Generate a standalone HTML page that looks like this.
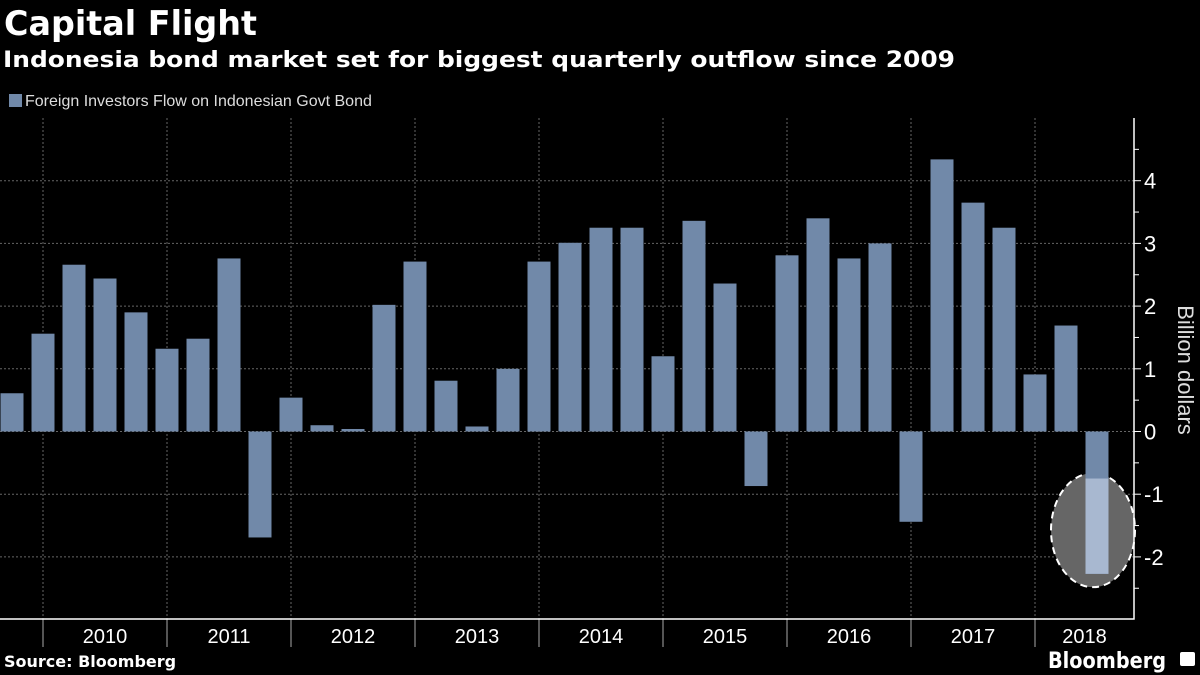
<!DOCTYPE html>
<html><head><meta charset="utf-8"><style>
html,body{margin:0;padding:0;background:#000;width:1200px;height:675px;overflow:hidden}
svg{display:block}
</style></head><body>
<svg id="c" width="1200" height="675" xmlns="http://www.w3.org/2000/svg" font-family="'Liberation Sans', 'DejaVu Sans', sans-serif">
<text x="4" y="35" fill="#fff" font-size="34" font-weight="bold" font-family="'DejaVu Sans', sans-serif" textLength="253" lengthAdjust="spacingAndGlyphs">Capital Flight</text>
<text x="3" y="67" fill="#fff" font-size="22" font-weight="bold" font-family="'DejaVu Sans', sans-serif" textLength="952" lengthAdjust="spacingAndGlyphs">Indonesia bond market set for biggest quarterly outflow since 2009</text>
<rect x="9" y="94" width="13" height="13" fill="#7189a9"/>
<text x="25" y="106" fill="#ddd" font-size="16">Foreign Investors Flow on Indonesian Govt Bond</text>
<g id="grid"></g>
<g id="bars"></g>
<g id="axes"></g>
<text x="4" y="667" fill="#fff" font-size="16" font-weight="bold" font-family="'DejaVu Sans', sans-serif">Source: Bloomberg</text>
<text x="1048" y="668" fill="#fff" font-size="22" font-weight="bold" font-family="'DejaVu Sans', sans-serif" textLength="118" lengthAdjust="spacingAndGlyphs">Bloomberg</text>
<rect x="1180" y="652" width="15" height="14" rx="2" fill="#fff"/>
<text transform="translate(1178,370) rotate(90)" fill="#ddd" font-size="22" text-anchor="middle">Billion dollars</text>
</svg>
<script>
const values=[0.61,1.56,2.66,2.44,1.90,1.32,1.48,2.76,-1.69,0.54,0.10,0.04,2.02,2.71,0.81,0.08,1.00,2.71,3.01,3.25,3.25,1.20,3.36,2.36,-0.87,2.81,3.40,2.76,3.00,-1.44,4.34,3.65,3.25,0.91,1.69,-2.27];
const years=["2010","2011","2012","2013","2014","2015","2016","2017","2018"];
const yTicks=[-2,-1,0,1,2,3,4];
const NS="http://www.w3.org/2000/svg";
const y0=431.5, unit=62.7, axisX=1134, axisY=619, topY=118;
const yS=v=>y0-v*unit;
const xS=i=>12+31*i;
function mk(t,a,p){const e=document.createElementNS(NS,t);for(const k in a)e.setAttribute(k,a[k]);p.appendChild(e);return e;}
const grid=document.getElementById('grid'),bars=document.getElementById('bars'),axes=document.getElementById('axes');
yTicks.forEach(v=>{
 const l=mk('line',{x1:0,x2:axisX,y1:yS(v),y2:yS(v),stroke:'#666','stroke-dasharray':'2,2','stroke-width':1},grid);
 
 
 const t=mk('line',{x1:axisX,x2:axisX+7,y1:yS(v),y2:yS(v),stroke:'#fff'},axes);
 
 
 const tx=mk('text',{x:axisX+10,y:yS(v)+8,fill:'#fff','font-size':22},axes);
 tx.textContent=v<0?'-'+Math.abs(v):String(v);
 
 
});
for(let v=-2.5;v<=4.5;v+=1){
 const m=mk('line',{x1:axisX,x2:axisX+5,y1:yS(v),y2:yS(v),stroke:'#fff'},axes);
 
 
}
years.forEach((yr,k)=>{
 const sx=43+124*k;
 const g=mk('line',{x1:sx,x2:sx,y1:topY,y2:axisY,stroke:'#666','stroke-dasharray':'2,2'},grid);
 
 
 const t=mk('line',{x1:sx,x2:sx,y1:axisY,y2:647,stroke:'#aaa'},axes);
 
 
 const ex=Math.min(sx+124,axisX);
 const tx=mk('text',{x:(sx+ex)/2,y:643,fill:'#fff','font-size':20,'text-anchor':'middle'},axes);
 tx.textContent=yr;
 
 
});
const last=values.length-1;
const cx=xS(last), cy=(yS(-0.75)+yS(-2.27))/2+4;
const el=mk('ellipse',{cx:cx-4,cy:cy,rx:42,ry:57,fill:'#666',stroke:'#fff','stroke-width':2,'stroke-dasharray':'7,5'},bars);


values.forEach((v,i)=>{
 const y1=Math.min(yS(v),y0),h=Math.abs(yS(v)-y0);
 const r=mk('rect',{x:xS(i)-11.5,y:y1,width:23,height:h,fill:'#7189a9'},bars);
 
 
 if(i===last&&v<-0.75){
  const r2=mk('rect',{x:xS(i)-11.5,y:yS(-0.75),width:23,height:yS(v)-yS(-0.75),fill:'#a8b8d0'},bars);
  
  
 }
});
const ax=mk('path',{d:`M0 ${axisY} H${axisX} V${topY}`,stroke:'#fff',fill:'none','stroke-width':1.5},axes);


</script>
</body></html>
